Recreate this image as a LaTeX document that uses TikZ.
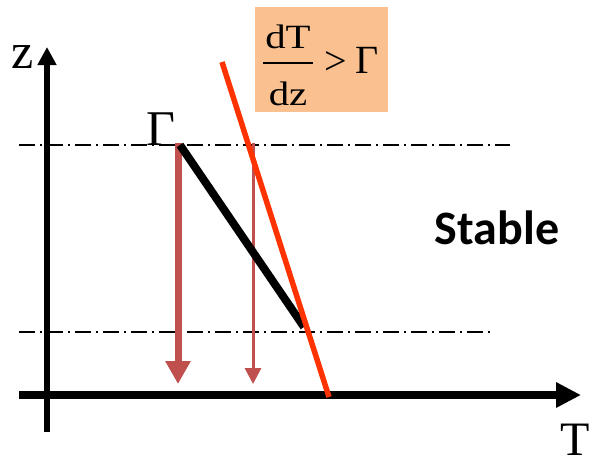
\documentclass[tikz,border=0pt]{standalone}
\usepackage{fontspec}
\setmainfont{Liberation Serif}
\newfontfamily\calib{Carlito}
\usetikzlibrary{arrows.meta}
\definecolor{boxor}{RGB}{250,192,144}
\definecolor{redl}{RGB}{255,51,0}
\definecolor{brn}{RGB}{192,80,77}
\tikzset{
  dashdot/.style={line width=1.4pt, dash pattern=on 16pt off 5pt on 2pt off 5pt},
  biglabel/.style={inner sep=0pt, font=\fontsize{50}{60}\selectfont},
  fraclabel/.style={inner sep=0pt, font=\fontsize{34}{40}\selectfont},
  rellabel/.style={inner sep=0pt, font=\fontsize{40}{48}\selectfont},
}
\begin{document}
\begin{tikzpicture}[x=1pt,y=-1pt]
\useasboundingbox (0,0) rectangle (593,461);
% coordinates
\coordinate (zb) at (47,432);
\coordinate (zt) at (47,47);
\coordinate (tl) at (19,395);
\coordinate (tr) at (581,395);
\coordinate (u1) at (19,145);
\coordinate (u2) at (510,145);
\coordinate (l1) at (19,332);
\coordinate (l2) at (493,332);
\coordinate (g1) at (180,145);
\coordinate (g2) at (304,327);
\coordinate (r1) at (222,62);
\coordinate (r2) at (329,397);
\coordinate (a1) at (178,143);
\coordinate (a2) at (178,384);
\coordinate (b1) at (253,143);
\coordinate (b2) at (253,384);
% orange box
\node[draw=none, fill=boxor, minimum width=133pt, minimum height=105pt, inner sep=0pt] (box) at (321.5,59.5) {};
\node[fraclabel, anchor=base] (dT) at (288,48) {\scalebox{1.2}[1]{dT}};
\node[fraclabel, anchor=base] (dz) at (288,105) {\scalebox{1.2}[1]{dz}};
\coordinate (f1) at (263,63);
\coordinate (f2) at (313,63);
\draw[line width=1.4pt] (f1) -- (f2);
\node[rellabel] (gt) at (336,63) {>};
\node[rellabel, anchor=base] (gg) at (367.5,73) {Γ};
% dash-dot lines
\draw[dashdot] (u1) -- (u2);
\draw[dashdot] (l1) -- (l2);
% axes
\draw[line width=5.5pt, -{Triangle[width=18pt,length=18pt]}] (zb) -- (zt);
\draw[line width=8pt, -{Triangle[width=24pt,length=25pt]}] (tl) -- (tr);
% arrows
\draw[brn, line width=7pt, -{Triangle[width=24pt,length=23pt]}] (a1) -- (a2);
\draw[brn, line width=3pt, -{Triangle[width=16pt,length=16pt]}] (b1) -- (b2);
% lines
\draw[line width=8pt] (g1) -- (g2);
\draw[redl, line width=5.5pt] (r1) -- (r2);
% labels
\node[biglabel, anchor=base] (zlab) at (23,68) {z};
\node[biglabel, anchor=base] (glab) at (161,145) {Γ};
\node[inner sep=0pt, anchor=base, text depth=0pt, font=\fontsize{48}{56}\selectfont] (tlab) at (575,455) {T};
\node[inner sep=0pt, anchor=base, font=\calib\bfseries\fontsize{48}{56}\selectfont] (stable) at (497,244) {Stable};
\end{tikzpicture}
\end{document}
